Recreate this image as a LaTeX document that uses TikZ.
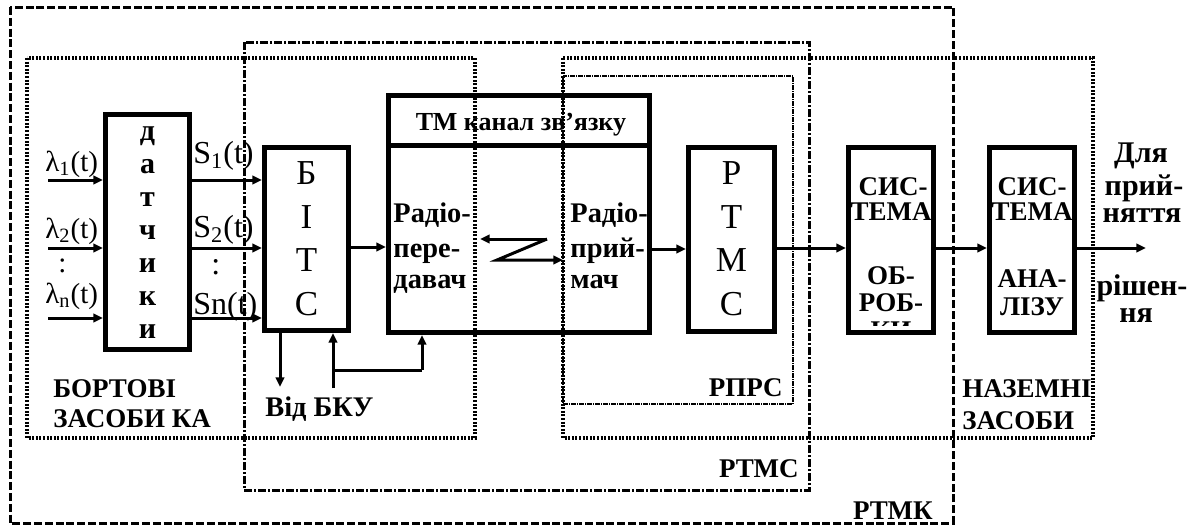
\documentclass[tikz,border=0pt]{standalone}
\usepackage{fontspec}
\setmainfont{Liberation Serif}
\usetikzlibrary{arrows.meta}
\begin{document}
\begin{tikzpicture}[x=0.5pt,y=-0.5pt,
  blk/.style={draw, line width=2.5pt, inner sep=0pt},
  arr/.style={line width=1.5pt, -{Triangle[length=4.8pt,width=4.2pt]}},
  ln/.style={line width=1.5pt},
  bt/.style={font=\fontsize{13.5}{16}\selectfont\bfseries, inner sep=0pt},
  bm/.style={font=\fontsize{14.2}{16}\selectfont\bfseries, inner sep=0pt},
  bo/.style={font=\fontsize{15}{16}\selectfont\bfseries, inner sep=0pt},
  bd/.style={font=\fontsize{15}{16}\selectfont\bfseries, inner sep=0pt},
  tt/.style={font=\fontsize{13}{15}\selectfont\bfseries, inner sep=0pt},
  rt/.style={font=\fontsize{17.5}{18}\selectfont, inner sep=0pt},
  st/.style={font=\fontsize{16}{18}\selectfont, inner sep=0pt},
  lt/.style={font=\fontsize{14.5}{16}\selectfont, inner sep=0pt},
  rtmkbox/.style={line width=1.5pt, dash pattern=on 4pt off 1.4pt},
  rtmsbox/.style={line width=1.5pt, dash pattern=on 4pt off 1pt on 1pt off 1pt},
  dotbox/.style={line width=1.6pt, dash pattern=on 1pt off 0.8pt},
  rprsbox/.style={line width=1pt, dash pattern=on 2.5pt off 0.5pt on 0.5pt off 0.5pt}
]
\useasboundingbox (0,0) rectangle (1189,526);

% region boxes
\draw[rtmkbox] (10,7) rectangle (953,523);
\draw[rtmsbox] (244,42) rectangle (809,490);
\draw[dotbox] (27,58) rectangle (475,438);
\draw[dotbox] (563,58) rectangle (1093,438);
\draw[rprsbox] (563,76) rectangle (793,404);

% blocks
\node[blk, minimum width=42pt, minimum height=117.5pt] (dat) at (147.5,232) {};
\node[blk, minimum width=42pt, minimum height=91.5pt] (bits) at (306.5,239) {};
\node[blk, minimum width=130.5pt, minimum height=118.5pt] (tm) at (519,214) {};
\node[blk, minimum width=43pt, minimum height=92pt] (rtms) at (731.5,239.5) {};
\node[blk, minimum width=42.5pt, minimum height=92.5pt] (sys1) at (891,240) {};
\node[blk, minimum width=42.5pt, minimum height=92.5pt] (sys2) at (1032,240) {};
\draw[line width=2.5pt] (tm.west |- 0,145) -- (tm.east |- 0,145);

% датчики letters
\node[bd, anchor=base] (d1) at (147.5,140) {д};
\node[bd, anchor=base] (d2) at (147.5,173) {а};
\node[bd, anchor=base] (d3) at (147.5,206) {т};
\node[bd, anchor=base] (d4) at (147.5,239) {ч};
\node[bd, anchor=base] (d5) at (147.5,272) {и};
\node[bd, anchor=base] (d6) at (147.5,305) {к};
\node[bd, anchor=base] (d7) at (147.5,338) {и};

% БІТС letters
\node[rt, anchor=base] (b1) at (306.5,184) {Б};
\node[rt, anchor=base] (b2) at (306.5,228) {І};
\node[rt, anchor=base] (b3) at (306.5,271) {Т};
\node[rt, anchor=base] (b4) at (306.5,315) {С};

% РТМС letters
\node[rt, anchor=base] (r1) at (731.5,184) {Р};
\node[rt, anchor=base] (r2) at (731.5,228) {Т};
\node[rt, anchor=base] (r3) at (731.5,271) {М};
\node[rt, anchor=base] (r4) at (731.5,315) {С};

% TM box texts
\node[tt, anchor=base] (tmt) at (521,130) {ТМ канал зв’язку};
\node[bm, anchor=base west] (tx1) at (393,222) {Радіо-};
\node[bm, anchor=base west] (tx2) at (393,257) {пере-};
\node[bm, anchor=base west] (tx3) at (393,288) {давач};
\node[bm, anchor=base west] (rx1) at (570,222) {Радіо-};
\node[bm, anchor=base west] (rx2) at (570,257) {прий-};
\node[bm, anchor=base west] (rx3) at (570,288) {мач};

% system boxes texts
\node[bt, anchor=base] (sa1) at (893,195) {СИС-};
\node[bt, anchor=base] (sa2) at (891,220) {ТЕМА};
\node[bt, anchor=base] (sa3) at (891,284) {ОБ-};
\node[bt, anchor=base] (sa4) at (891,311) {РОБ-};
\begin{scope}
\clip (846,145) rectangle (936,325);
\node[bt, anchor=base] (sa5) at (891,339) {КИ};
\end{scope}
\node[bt, anchor=base] (sb1) at (1032,195) {СИС-};
\node[bt, anchor=base] (sb2) at (1032,220) {ТЕМА};
\node[bt, anchor=base] (sb3) at (1032,287) {АНА-};
\node[bt, anchor=base] (sb4) at (1032,315) {ЛІЗУ};

% output text
\node[bo, anchor=base] (o1) at (1141,162) {Для};
\node[bo, anchor=base] (o2) at (1144,195) {прий-};
\node[bo, anchor=base] (o3) at (1142,222) {няття};
\node[bo, anchor=base] (o4) at (1142,295) {рішен-};
\node[bo, anchor=base] (o5) at (1136,322) {ня};

% input labels
\node[lt, anchor=base west] (l1) at (45,171) {λ\textsubscript{1}(t)};
\node[lt, anchor=base west] (l2) at (45,238) {λ\textsubscript{2}(t)};
\node[lt, anchor=base west] (ld) at (58,272) {:};
\node[lt, anchor=base west] (ln) at (45,303) {λ\textsubscript{n}(t)};
\node[st, anchor=base west] (s1) at (193,163) {S\textsubscript{1}(t)};
\node[st, anchor=base west] (s2) at (193,237) {S\textsubscript{2}(t)};
\node[st, anchor=base west] (sd) at (211,274) {:};
\node[st, anchor=base west] (sn) at (193,314) {Sn(t)};

% group labels
\node[bt, anchor=base west] (g1) at (53,397) {БОРТОВІ};
\node[bt, anchor=base west] (g2) at (53,427) {ЗАСОБИ КА};
\node[bm, anchor=base west] (vb) at (265,416) {Від БКУ};
\node[bt, anchor=base east] (g3) at (783,396) {РПРС};
\node[bt, anchor=base east] (g4) at (799,477) {РТМС};
\node[bt, anchor=base east] (g5) at (933,519) {РТМК};
\node[bt, anchor=base west] (g6) at (962,397) {НАЗЕМНІ};
\node[bt, anchor=base west] (g7) at (962,429) {ЗАСОБИ};

% connectors
\coordinate (in1) at (48,180);
\coordinate (in2) at (48,248);
\coordinate (in3) at (48,318);
\draw[arr] (in1) -- (dat.west |- in1);
\draw[arr] (in2) -- (dat.west |- in2);
\draw[arr] (in3) -- (dat.west |- in3);
\draw[arr] (dat.east |- in1) -- (bits.west |- in1);
\draw[arr] (dat.east |- in2) -- (bits.west |- in2);
\draw[arr] (dat.east |- in3) -- (bits.west |- in3);
\coordinate (y1) at (0,247);
\draw[arr] (bits.east |- y1) -- (tm.west |- y1);
\coordinate (y2) at (0,249);
\draw[arr] (tm.east |- y2) -- (rtms.west |- y2);
\coordinate (y3) at (0,248);
\draw[arr] (rtms.east |- y3) -- (sys1.west |- y3);
\draw[arr] (sys1.east |- y3) -- (sys2.west |- y3);
\coordinate (out) at (1146,248);
\draw[arr] (sys2.east |- y3) -- (out);

\coordinate (bku1) at (280,387);
\coordinate (bku2) at (333,388);
\coordinate (bkuj) at (333,370);
\coordinate (tmin) at (422,370);
\draw[arr] (bits.south -| bku1) -- (bku1);
\draw[arr] (bku2) -- (bits.south -| bku2);
\draw[ln] (bkuj) -- (tmin);
\draw[arr] (tmin) -- (tm.south -| tmin);

% radio link symbol
\coordinate (z1) at (547,239);
\coordinate (z0) at (480,239);
\coordinate (z2) at (497,260);
\coordinate (z3) at (563,260);
\draw[arr] (z1) -- (z0);
\draw[arr] (z1) -- (z2) -- (z3);
\end{tikzpicture}
\end{document}
